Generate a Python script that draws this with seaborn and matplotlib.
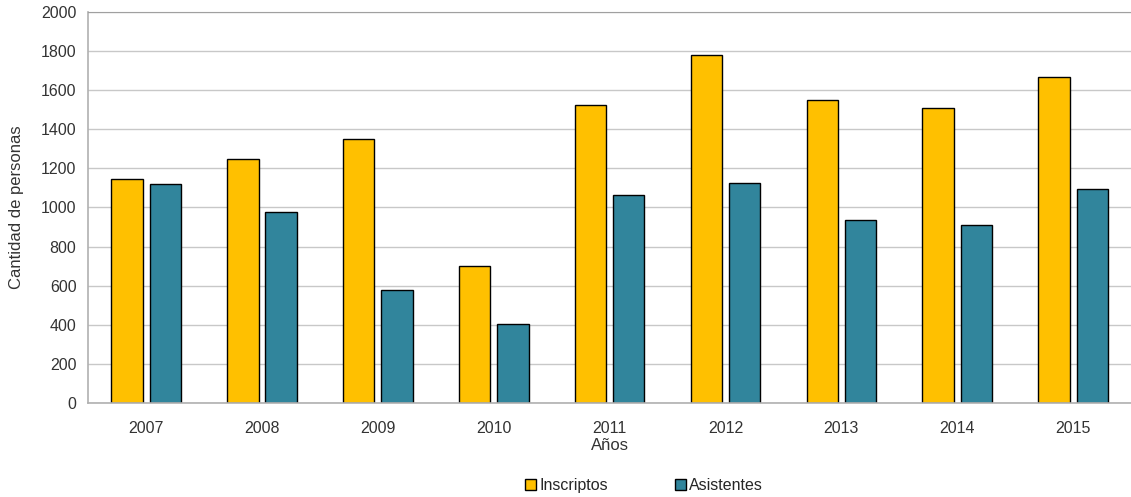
import pandas as pd
import numpy as np
import matplotlib.pyplot as plt
import seaborn as sns

# data
years = ["2007", "2008", "2009", "2010", "2011", "2012", "2013", "2014", "2015"]
inscriptos = [1146, 1248, 1350, 701, 1522, 1780, 1550, 1508, 1667]
asistentes = [1120, 977, 578, 404, 1064, 1125, 936, 910, 1093]

df = pd.DataFrame({"Año": years * 2,
                   "Personas": inscriptos + asistentes,
                   "Serie": ["Inscriptos"] * len(years) + ["Asistentes"] * len(years)})

sns.set_style("white")
plt.rcParams["font.family"] = ["Liberation Sans", "DejaVu Sans"]

fig = plt.figure(figsize=(11.31, 4.97), dpi=100)
ax = fig.add_axes([0.078, 0.189, 0.922, 0.787])

sns.barplot(data=df, x="Año", y="Personas", hue="Serie",
            palette={"Inscriptos": "#FFC000", "Asistentes": "#31859C"},
            saturation=1, width=0.66, gap=0.18, edgecolor="black", linewidth=1, ax=ax)

ax.set_ylim(0, 2000)
ax.set_yticks(range(0, 2001, 200))
ax.yaxis.grid(True, color="#c8c8c8", linewidth=1)
ax.set_axisbelow(True)
ax.set_xlim(-0.5, len(years) - 0.5)
ax.set_xticks(np.arange(len(years)))
ax.set_xticklabels(years)
ax.set_xticks(np.arange(len(years) + 1) - 0.5, minor=True)
ax.tick_params(axis="x", which="major", length=0, labelsize=11.5, pad=13, colors="#333333")
ax.tick_params(axis="x", which="minor", length=5, color="#b0b0b0", width=1)
ax.tick_params(axis="y", length=5, labelsize=11.5, colors="#333333")
ax.tick_params(axis="y", color="#b0b0b0")
ax.spines["right"].set_visible(False)
ax.spines["top"].set_color("#a0a0a0")
for s in ["left", "bottom"]:
    ax.spines[s].set_color("#b0b0b0")
    ax.spines[s].set_linewidth(1.2)

ax.set_xlabel("Años", fontsize=12, color="#333333", labelpad=1.5)
ax.set_ylabel("Cantidad de personas", fontsize=12, color="#333333", labelpad=12)

handles, labels = ax.get_legend_handles_labels()
ax.legend(handles, labels, loc="upper center", bbox_to_anchor=(0.533, -0.155), ncol=2,
          frameon=False, fontsize=11.5, handlelength=0.7, handleheight=0.7,
          handletextpad=0.2, columnspacing=4.2)

plt.savefig("out.png", dpi=100)
